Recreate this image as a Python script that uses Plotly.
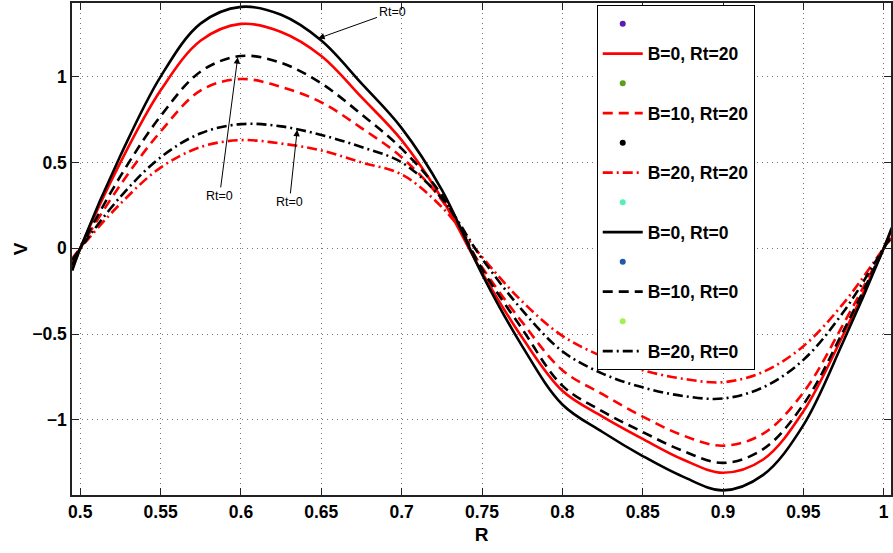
import numpy as np
import plotly.graph_objects as go

# radial coordinate samples
R = [0.495, 0.5, 0.525, 0.55, 0.575, 0.6, 0.625, 0.65, 0.675, 0.7, 0.725, 0.75,
     0.775, 0.8, 0.825, 0.85, 0.875, 0.9, 0.925, 0.95, 0.975, 1.0, 1.005]

# velocity profiles V(R)
V_B0_Rt20 = [-0.12, 0, 0.50, 0.92, 1.21, 1.307, 1.26, 1.12, 0.88, 0.63, 0.29, -0.14,
             -0.52, -0.83, -0.98, -1.11, -1.23, -1.307, -1.23, -0.95, -0.50, 0, 0.11]
V_B10_Rt20 = [-0.09, 0, 0.37, 0.68, 0.92, 0.986, 0.94, 0.85, 0.70, 0.53, 0.28, -0.11,
              -0.43, -0.71, -0.85, -0.98, -1.09, -1.15, -1.08, -0.84, -0.44, 0, 0.09]
V_B20_Rt20 = [-0.06, 0, 0.26, 0.47, 0.59, 0.63, 0.61, 0.57, 0.50, 0.43, 0.24, -0.05,
              -0.31, -0.51, -0.63, -0.71, -0.76, -0.78, -0.72, -0.57, -0.32, 0, 0.06]
V_B0_Rt0 = [-0.13, 0, 0.54, 1.0, 1.31, 1.406, 1.36, 1.21, 0.96, 0.70, 0.34, -0.15,
            -0.57, -0.91, -1.07, -1.21, -1.33, -1.41, -1.32, -1.03, -0.54, 0, 0.12]
V_B10_Rt0 = [-0.10, 0, 0.42, 0.77, 1.03, 1.12, 1.08, 0.96, 0.78, 0.58, 0.31, -0.12,
             -0.47, -0.80, -0.95, -1.07, -1.18, -1.25, -1.17, -0.91, -0.48, 0, 0.10]
V_B20_Rt0 = [-0.07, 0, 0.30, 0.53, 0.67, 0.723, 0.71, 0.66, 0.59, 0.50, 0.29, -0.06,
             -0.36, -0.60, -0.73, -0.81, -0.86, -0.875, -0.81, -0.65, -0.37, 0, 0.07]

x_ticks = [0.5, 0.55, 0.6, 0.65, 0.7, 0.75, 0.8, 0.85, 0.9, 0.95, 1]
x_tick_text = ["0.5", "0.55", "0.6", "0.65", "0.7", "0.75", "0.8", "0.85", "0.9", "0.95", "1"]
y_ticks = [-1, -0.5, 0, 0.5, 1]
y_tick_text = ["\u22121", "\u22120.5", "0", "0.5", "1"]

# (label, values, colour, dash pattern) for each curve
series = [
    ("B=0, Rt=20", V_B0_Rt20, "#ff0000", "solid"),
    ("B=10, Rt=20", V_B10_Rt20, "#ff0000", "10px,6px"),
    ("B=20, Rt=20", V_B20_Rt20, "#ff0000", "10px,4px,2px,4px"),
    ("B=0, Rt=0", V_B0_Rt0, "#000000", "solid"),
    ("B=10, Rt=0", V_B10_Rt0, "#000000", "10px,6px"),
    ("B=20, Rt=0", V_B20_Rt0, "#000000", "10px,4px,2px,4px"),
]
dot_colors = ["#5a1ab4", "#5c9e1c", "#000000", "#55f0b4", "#1f5aa8", "#a2f052"]

FONT = "Liberation Sans, Arial, sans-serif"

fig = go.Figure()
for i, ((name, vals, col, dash), dc) in enumerate(zip(series, dot_colors)):
    fig.add_trace(go.Scatter(x=[None], y=[None], mode="markers", name=" ",
                             legendgroup=f"d{i}",
                             marker=dict(color=dc, size=6)))
    fig.add_trace(go.Scatter(x=R, y=vals, mode="lines", name=name,
                             legendgroup=f"c{i}",
                             line=dict(color=col, width=2.6, dash=dash,
                                       shape="spline", smoothing=1.0)))

def on_curve(vals, r):
    return float(np.interp(r, R, vals))

arrow = dict(showarrow=True, arrowhead=2, arrowsize=1.3, arrowwidth=1,
             arrowcolor="black", axref="x", ayref="y",
             font=dict(family=FONT, size=12.5, color="black"))
fig.add_annotation(x=0.648, y=on_curve(V_B0_Rt0, 0.648), ax=0.694, ay=1.376,
                   text="Rt=0", **arrow)
fig.add_annotation(x=0.598, y=on_curve(V_B10_Rt0, 0.598), ax=0.5867, ay=0.305,
                   text="Rt=0", **arrow)
fig.add_annotation(x=0.635, y=on_curve(V_B20_Rt0, 0.635), ax=0.6302, ay=0.27,
                   text="Rt=0", **arrow)

axis_common = dict(showline=True, linecolor="#222", linewidth=1.5, mirror="ticks",
                   ticks="inside", ticklen=7, tickcolor="#222",
                   showgrid=True, gridcolor="#777", gridwidth=1, griddash="1px,4px",
                   zeroline=False,
                   tickfont=dict(family=FONT, size=17.5, color="black", weight="bold"))

fig.update_xaxes(range=[0.49485, 1.00453], tickvals=x_ticks, ticktext=x_tick_text,
                 title=dict(text="<b>R</b>", font=dict(family=FONT, size=19, color="black"),
                            standoff=7),
                 **axis_common)
fig.update_yaxes(range=[-1.437, 1.4286], tickvals=y_ticks, ticktext=y_tick_text,
                 title=dict(text="<b>V</b>", font=dict(family=FONT, size=19, color="black"),
                            standoff=0),
                 **axis_common)

fig.update_layout(
    width=893, height=553,
    margin=dict(l=72, r=0, t=3, b=58),
    plot_bgcolor="white", paper_bgcolor="white",
    legend=dict(x=0.6407, y=0.996, xanchor="left", yanchor="top",
                bgcolor="white", bordercolor="black", borderwidth=1,
                tracegroupgap=4, itemwidth=40,
                font=dict(family=FONT, size=17.5, color="black", weight="bold")),
)

fig.write_html("out.html")
